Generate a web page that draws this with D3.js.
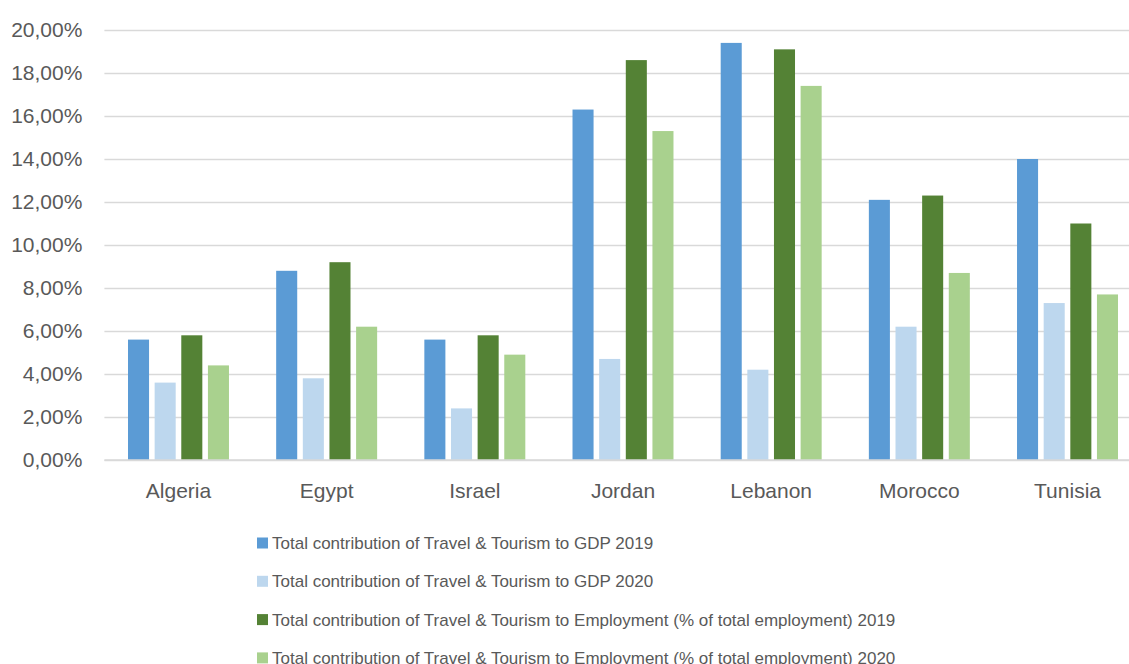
<!DOCTYPE html>
<html>
<head>
<meta charset="utf-8">
<script src="https://cdn.jsdelivr.net/npm/d3@7"></script>
<style>
  body { margin: 0; background: #fff; }
  svg { display: block; font-family: "Liberation Sans", Arial, sans-serif; }
  .tick text { fill: #595959; }
</style>
</head>
<body>
<svg></svg>
<script>
const WIDTH = 1129;
const HEIGHT = 664;

const countries = ["Algeria", "Egypt", "Israel", "Jordan", "Lebanon", "Morocco", "Tunisia"];
const seriesNames = [
  "Total contribution of Travel & Tourism to GDP 2019",
  "Total contribution of Travel & Tourism to GDP 2020",
  "Total contribution of Travel & Tourism to Employment (% of total employment) 2019",
  "Total contribution of Travel & Tourism to Employment (% of total employment) 2020",
];
const gdp2019 = [5.6, 8.8, 5.6, 16.3, 19.4, 12.1, 14.0];
const gdp2020 = [3.6, 3.8, 2.4, 4.7, 4.2, 6.2, 7.3];
const emp2019 = [5.8, 9.2, 5.8, 18.6, 19.1, 12.3, 11.0];
const emp2020 = [4.4, 6.2, 4.9, 15.3, 17.4, 8.7, 7.7];
const yTicks = [0, 2, 4, 6, 8, 10, 12, 14, 16, 18, 20];

const colors = ["#5B9BD5", "#BDD7EE", "#548235", "#A9D18E"];
const allSeries = [gdp2019, gdp2020, emp2019, emp2020];

const plotLeft = 104.4;
const plotRight = 1141.6;
const plotTop = 30;
const plotBottom = 460;

var svg = d3.select("svg").attr("width", WIDTH).attr("height", HEIGHT);

const x0 = d3.scaleBand().domain(countries).range([plotLeft, plotRight]);
const x1 = d3.scaleBand()
  .domain(d3.range(seriesNames.length))
  .range([23.6, x0.bandwidth() - 23.6])
  .paddingInner(0.21);
const y = d3.scaleLinear().domain([0, 20]).range([plotBottom, plotTop]);

const pct = d3.formatLocale({ decimal: ",", thousands: ".", grouping: [3], currency: ["", ""] }).format(".2f");

// gridlines + y labels
const yAxis = svg.append("g")
  .attr("transform", `translate(${plotLeft},0)`)
  .call(d3.axisLeft(y).tickValues(yTicks).tickSize(-(plotRight - plotLeft)).tickPadding(22).tickFormat((d) => pct(d) + "%"));
yAxis.select(".domain").remove();
yAxis.selectAll(".tick line").attr("stroke", "#D9D9D9").attr("stroke-width", 1.5);
yAxis.selectAll(".tick text").attr("font-size", 21).attr("font-family", "Liberation Sans, Arial, sans-serif");

// bars
const groups = svg.append("g").selectAll("g")
  .data(countries)
  .enter().append("g")
  .attr("transform", (d) => `translate(${x0(d)},0)`);

groups.selectAll("rect")
  .data((d, i) => allSeries.map((s, k) => ({ k: k, v: s[i] })))
  .enter().append("rect")
  .attr("x", (d) => x1(d.k))
  .attr("width", x1.bandwidth())
  .attr("y", (d) => y(d.v))
  .attr("height", (d) => y(0) - y(d.v))
  .attr("fill", (d) => colors[d.k]);

// baseline drawn above bars
svg.append("line")
  .attr("x1", plotLeft).attr("x2", plotRight)
  .attr("y1", y(0)).attr("y2", y(0))
  .attr("stroke", "#D9D9D9").attr("stroke-width", 1.5);

// category labels
const xAxis = svg.append("g")
  .attr("transform", `translate(0,${plotBottom})`)
  .call(d3.axisBottom(x0).tickSize(0).tickPadding(23));
xAxis.select(".domain").remove();
xAxis.selectAll(".tick text").attr("font-size", 21).attr("font-family", "Liberation Sans, Arial, sans-serif");

// legend
const legendX = 257;
const legendY0 = 543;
const legendStep = 38.3;
const legend = svg.append("g").selectAll("g")
  .data(seriesNames)
  .enter().append("g")
  .attr("transform", (d, i) => `translate(${legendX},${legendY0 + i * legendStep})`);

legend.append("rect")
  .attr("x", 0).attr("y", -5.5)
  .attr("width", 11).attr("height", 11)
  .attr("fill", (d, i) => colors[i]);

legend.append("text")
  .attr("x", 15)
  .attr("y", 0)
  .attr("dy", "0.35em")
  .attr("font-size", 17)
  .attr("fill", "#595959")
  .text((d) => d);
</script>
</body>
</html>
